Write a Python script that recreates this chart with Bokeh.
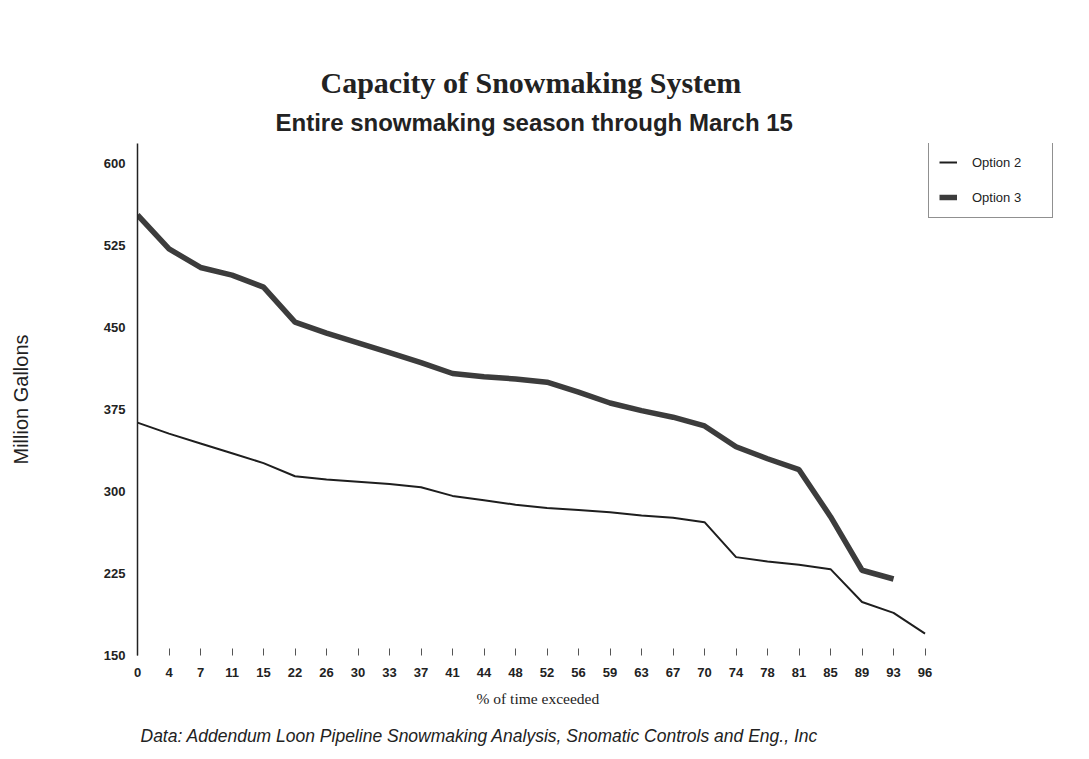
from bokeh.plotting import figure
from bokeh.models import Legend, LegendItem, FixedTicker, Range1d, Title
from bokeh.embed import file_html
from bokeh.resources import INLINE

pct_labels = ["0", "4", "7", "11", "15", "22", "26", "30", "33", "37", "41", "44", "48",
              "52", "56", "59", "63", "67", "70", "74", "78", "81", "85", "89", "93", "96"]
option2 = [363, 353, 344, 335, 326, 314, 311, 309, 307, 304, 296, 292, 288, 285, 283,
           281, 278, 276, 272, 240, 236, 233, 229, 199, 189, 170]
option3 = [553, 522, 505, 498, 487, 455, 445, 436, 427, 418, 408, 405, 403, 400, 391,
           381, 374, 368, 360, 341, 330, 320, 277, 228, 220]

title_text = "Capacity of Snowmaking System"
subtitle_text = "Entire snowmaking season through March 15"
ylabel_text = "Million Gallons"
xlabel_text = "% of time exceeded"
note_text = "Data: Addendum Loon Pipeline Snowmaking Analysis, Snomatic Controls and Eng., Inc"

x2 = list(range(len(option2)))
x3 = list(range(len(option3)))

p = figure(width=1085, height=755, output_backend="svg", toolbar_location=None,
           x_range=Range1d(0, 29.3), y_range=Range1d(150, 618.4),
           min_border_left=137, min_border_right=25, min_border_top=143, min_border_bottom=100)
p.title.visible = False
p.outline_line_color = None
p.grid.visible = False
p.background_fill_color = "white"
p.border_fill_color = "white"

r2 = p.line(x2, option2, line_color="#1e1e1e", line_width=2)
r3 = p.line(x3, option3, line_color="#3c3c3c", line_width=5.5)

# axes
p.yaxis.ticker = FixedTicker(ticks=[150, 225, 300, 375, 450, 525, 600])
p.yaxis.major_tick_line_color = None
p.yaxis.minor_tick_line_color = None
p.yaxis.axis_line_color = "#222222"
p.yaxis.axis_line_width = 1.5
p.yaxis.major_label_text_font = "Liberation Sans"
p.yaxis.major_label_text_font_style = "bold"
p.yaxis.major_label_text_font_size = "13px"
p.yaxis.major_label_text_color = "#222222"
p.yaxis.major_label_standoff = 6
p.yaxis.axis_label = ylabel_text
p.yaxis.axis_label_text_font = "Liberation Sans"
p.yaxis.axis_label_text_font_style = "normal"
p.yaxis.axis_label_text_font_size = "20px"
p.yaxis.axis_label_text_color = "#222222"
p.yaxis.axis_label_standoff = 69

p.xaxis.ticker = FixedTicker(ticks=list(range(len(pct_labels))))
p.xaxis.major_label_overrides = {i: s for i, s in enumerate(pct_labels)}
p.xaxis.axis_line_color = None
p.xaxis.major_tick_in = 7
p.xaxis.major_tick_out = 0
p.xaxis.major_tick_line_color = "#555555"
p.xaxis.minor_tick_line_color = None
p.xaxis.major_label_text_font = "Liberation Sans"
p.xaxis.major_label_text_font_style = "bold"
p.xaxis.major_label_text_font_size = "13px"
p.xaxis.major_label_text_color = "#222222"
p.xaxis.major_label_standoff = 12

# titles
p.add_layout(Title(text=subtitle_text, align="left", offset=138, text_font="Liberation Sans",
                   text_font_style="bold", text_font_size="24px", text_color="#222222",
                   standoff=15), "above")
p.add_layout(Title(text=title_text, align="left", offset=183, text_font="Liberation Serif",
                   text_font_style="bold", text_font_size="30px", text_color="#222222",
                   standoff=1), "above")
p.add_layout(Title(text=xlabel_text, align="left", offset=339, text_font="Liberation Serif",
                   text_font_style="normal", text_font_size="15.5px", text_color="#222222",
                   standoff=17), "below")
p.add_layout(Title(text=note_text, align="left", offset=3, text_font="Liberation Sans",
                   text_font_style="italic", text_font_size="17.5px", text_color="#222222",
                   standoff=16), "below")

legend = Legend(items=[LegendItem(label="Option 2", renderers=[r2]),
                       LegendItem(label="Option 3", renderers=[r3])],
                location=(791, 437), orientation="vertical",
                label_text_font="Liberation Sans", label_text_font_size="13px",
                label_text_color="#222222", glyph_width=18, label_width=70,
                label_standoff=15, spacing=15, padding=10,
                border_line_color="#222222", border_line_width=1.5,
                background_fill_alpha=0)
p.add_layout(legend)

open("out.html", "w").write(file_html(p, INLINE))
